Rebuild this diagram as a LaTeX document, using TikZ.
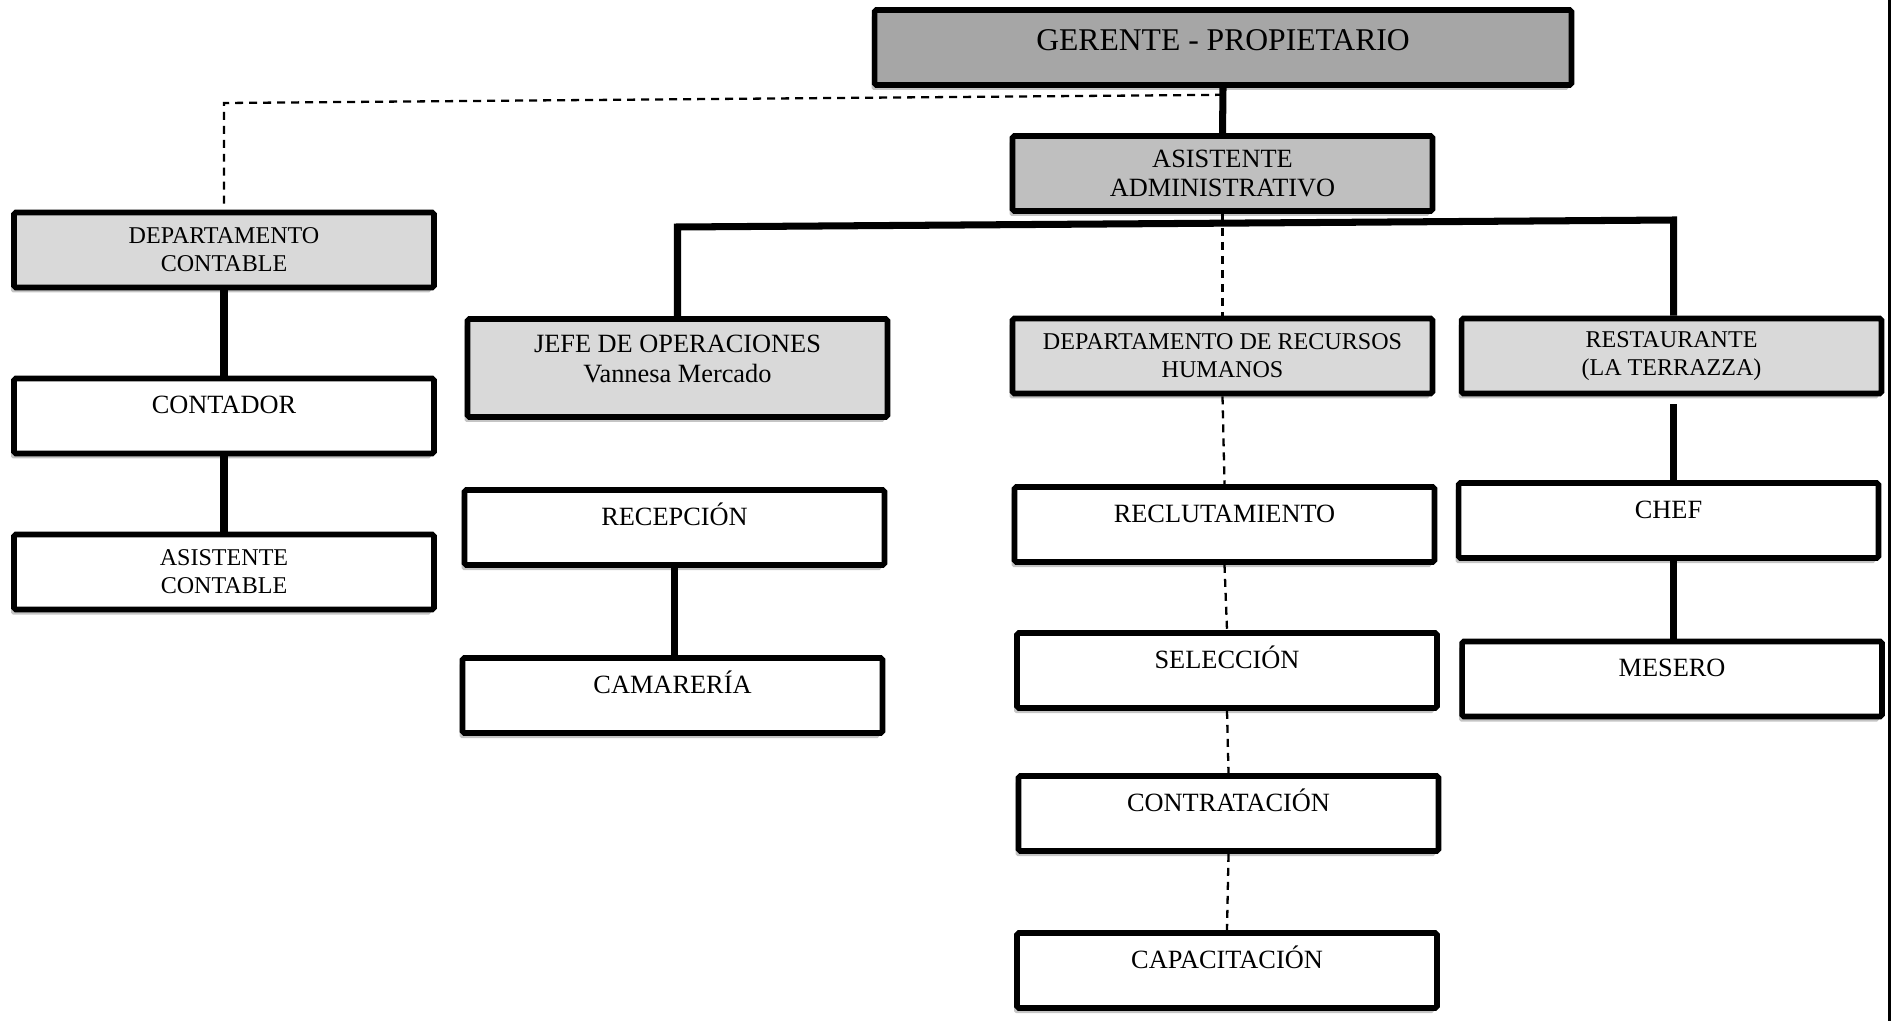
\documentclass[tikz,border=0pt]{standalone}
\usepackage{fontspec}
\setmainfont{Liberation Serif}
\usetikzlibrary{shadows}

\definecolor{grisoscuro}{HTML}{A6A6A6}
\definecolor{grismedio}{HTML}{BFBFBF}
\definecolor{grisclaro}{HTML}{D9D9D9}

\tikzset{
  caja/.style={rectangle, draw=black, line width=3.2pt, rounded corners=1pt, fill=white,
    minimum width=8.4cm, minimum height=1.5cm, inner sep=2pt,
    drop shadow={shadow xshift=-0.06cm, shadow yshift=-0.1cm, fill=black!45, opacity=0.5}},
  puesto/.style={caja, font=\fontsize{15}{17}\selectfont, text height=10pt, text depth=12.5pt},
  area/.style={caja, fill=grisclaro, align=center, font=\fontsize{13.7}{15.8}\selectfont},
  linea/.style={line width=4pt, line join=miter},
  punteada/.style={line width=1.3pt, dash pattern=on 0.16cm off 0.12cm}
}

\begin{document}
\begin{tikzpicture}[x=0.02cm, y=-0.02cm]
  \useasboundingbox (0,0) rectangle (1892,1021);

  % direccion
  \node[caja, fill=grisoscuro, minimum width=13.94cm, font=\fontsize{18}{20}\selectfont,
        text height=12pt, text depth=8.9pt] (ger) at (1223,47.5) {GERENTE - PROPIETARIO};
  \node[caja, fill=grismedio, align=center, font=\fontsize{15}{17}\selectfont] (asis) at (1222.5,173.5) {ASISTENTE\\ADMINISTRATIVO};

  % contabilidad
  \node[area] (dcont) at (224,250) {DEPARTAMENTO\\CONTABLE};
  \node[puesto] (conta) at (224,416) {CONTADOR};
  \node[area, fill=white] (acont) at (224,572) {ASISTENTE\\CONTABLE};

  % areas
  \node[caja, fill=grisclaro, align=center, minimum height=1.96cm, font=\fontsize{15}{17}\selectfont] (jefe) at (677.5,368) {JEFE DE OPERACIONES\\Vannesa Mercado\\[-6pt]\mbox{}};
  \node[area] (rrhh) at (1222.5,356) {DEPARTAMENTO DE RECURSOS\\HUMANOS};
  \node[area] (rest) at (1671.5,356) {RESTAURANTE\\(LA TERRAZZA)};

  \node[puesto] (recep) at (674.5,527.5) {RECEPCIÓN};
  \node[puesto] (camar) at (672.5,695.5) {CAMARERÍA};

  \node[puesto] (reclu) at (1224.5,524.5) {RECLUTAMIENTO};
  \node[puesto] (selec) at (1227,670.5) {SELECCIÓN};
  \node[puesto] (contr) at (1228.5,813.5) {CONTRATACIÓN};
  \node[puesto] (capac) at (1227,970.5) {CAPACITACIÓN};

  \node[puesto] (chef) at (1668.5,520.5) {CHEF};
  \node[puesto] (meser) at (1672,679) {MESERO};

  \coordinate (esq) at (224,103);
  \coordinate (barL) at (677.5,227);
  \coordinate (barR) at (1673.5,220);

  % lineas de mando
  \draw[linea] (ger.south) -- (asis.north);
  \draw[linea] (jefe.north) -- (barL) -- (barR) -- (barR |- rest.north);
  \draw[linea] (dcont.south) -- (conta.north);
  \draw[linea] (conta.south) -- (acont.north);
  \draw[linea] (recep.south) -- (recep.south |- camar.north);
  \draw[linea, shorten <=0.16cm] (barR |- rest.south) -- (barR |- chef.north);
  \draw[linea] (barR |- chef.south) -- (barR |- meser.north);

  % lineas de apoyo
  \draw[punteada] ([yshift=-0.14cm]ger.south) -- (esq) -- (dcont.north);
  \draw[punteada] (asis.south) -- (rrhh.north);
  \draw[punteada] (rrhh.south) -- (reclu.north);
  \draw[punteada] (reclu.south) -- (selec.north);
  \draw[punteada] (selec.south) -- (contr.north);
  \draw[punteada] (contr.south) -- (capac.north);

  % margen
  \draw[line width=0.06cm] (1889,0) -- (1889,1021);
\end{tikzpicture}
\end{document}
